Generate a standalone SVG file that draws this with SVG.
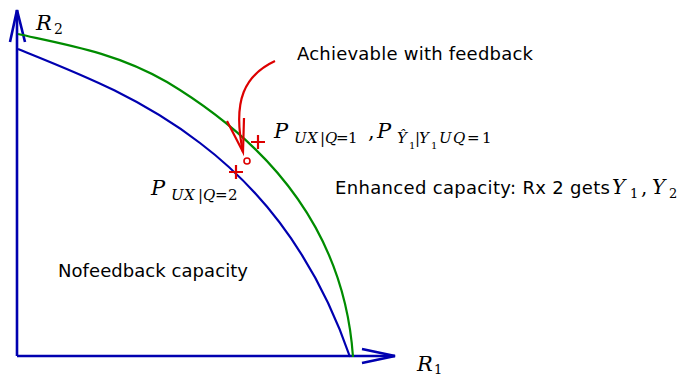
<svg xmlns="http://www.w3.org/2000/svg" width="682" height="376" viewBox="0 0 682 376">
<style>
.ax{fill:none;stroke:#0000b0;stroke-width:2.6;stroke-linejoin:miter}
.blue{fill:none;stroke:#0000b0;stroke-width:2.2}
.green{fill:none;stroke:#008c00;stroke-width:2.2}
.red{fill:none;stroke:#dd0000;stroke-width:2.2}
.sans{font-family:"DejaVu Sans",sans-serif;font-size:18px;fill:#000}
.m{font-family:"DejaVu Serif",serif;font-style:italic;fill:#000}
.r{font-family:"DejaVu Serif",serif;font-style:normal;fill:#000}
</style>
<rect width="682" height="376" fill="#fff"/>
<g id="axes">
<path class="ax" d="M17,356 L17,10 M17,356 L395,356"/>
<path class="ax" d="M10,42 L17,10 L25,42"/>
<path class="ax" d="M362,349 L395,356 L362,363"/>
</g>
<g id="connectors">
<path id="nofeedback-curve" class="blue" d="M18,49 C80,74 140,97 200,143 C270,196 320,270 350,357"/>
<path id="feedback-curve" class="green" d="M18,34 C68,45 117,53 167,82 C280,150 345,240 353,357"/>
<path id="red-arrow" class="red" d="M275,61 C245,75 232,100 243,152"/>
<path class="red" d="M227,121 L243,152 L244,118"/>
</g>
<g id="markers">
<path class="red" d="M251,142 H265 M258,135 V149"/>
<path class="red" d="M229,172 H243 M236,165 V179"/>
<circle cx="247" cy="161" r="3" fill="#fff" stroke="#dd0000" stroke-width="1.6"/>
</g>
<g id="label-R2">
<text class="m" x="36" y="30" font-size="21">R</text>
<text class="r" x="54" y="34" font-size="14">2</text>
</g>
<g id="label-R1">
<text class="m" x="417" y="371" font-size="21">R</text>
<text class="r" x="434" y="374" font-size="13">1</text>
</g>
<g id="label-achievable">
<text class="sans" x="297" y="60" textLength="236">Achievable with feedback</text>
</g>
<g id="label-P1">
<text class="m" x="274" y="138" font-size="21">P</text>
<text class="m" y="143" font-size="15"><tspan x="294">U</tspan><tspan x="307">X</tspan><tspan class="r" x="320">|</tspan><tspan x="325">Q</tspan><tspan class="r" x="336">=</tspan><tspan class="r" x="348">1</tspan></text>
<text class="r" x="368" y="138" font-size="21">,</text>
<text class="m" x="377" y="138" font-size="21">P</text>
<text class="m" x="397" y="143" font-size="15">Ŷ</text>
<text class="r" x="409" y="149" font-size="10">1</text>
<text class="r" x="415" y="143" font-size="15">|</text>
<text class="m" x="419" y="143" font-size="15">Y</text>
<text class="r" x="431" y="149" font-size="10">1</text>
<text class="m" y="143" font-size="15"><tspan x="439">U</tspan><tspan x="453">Q</tspan><tspan class="r" x="467">=</tspan><tspan class="r" x="482">1</tspan></text>
</g>
<g id="label-P2">
<text class="m" x="151" y="195" font-size="21">P</text>
<text class="m" y="200" font-size="15"><tspan x="171">U</tspan><tspan x="184">X</tspan><tspan class="r" x="198">|</tspan><tspan x="203">Q</tspan><tspan class="r" x="215">=</tspan><tspan class="r" x="228">2</tspan></text>
</g>
<g id="label-enhanced">
<text class="sans" x="335" y="194" textLength="275">Enhanced capacity: Rx 2 gets</text>
<text class="m" x="612" y="194" font-size="20">Y</text>
<text class="r" x="630" y="198" font-size="13">1</text>
<text class="r" x="641" y="194" font-size="20">,</text>
<text class="m" x="652" y="194" font-size="20">Y</text>
<text class="r" x="669" y="198" font-size="13">2</text>
</g>
<g id="label-nofeedback">
<text class="sans" x="58" y="277" textLength="190">Nofeedback capacity</text>
</g>
</svg>
